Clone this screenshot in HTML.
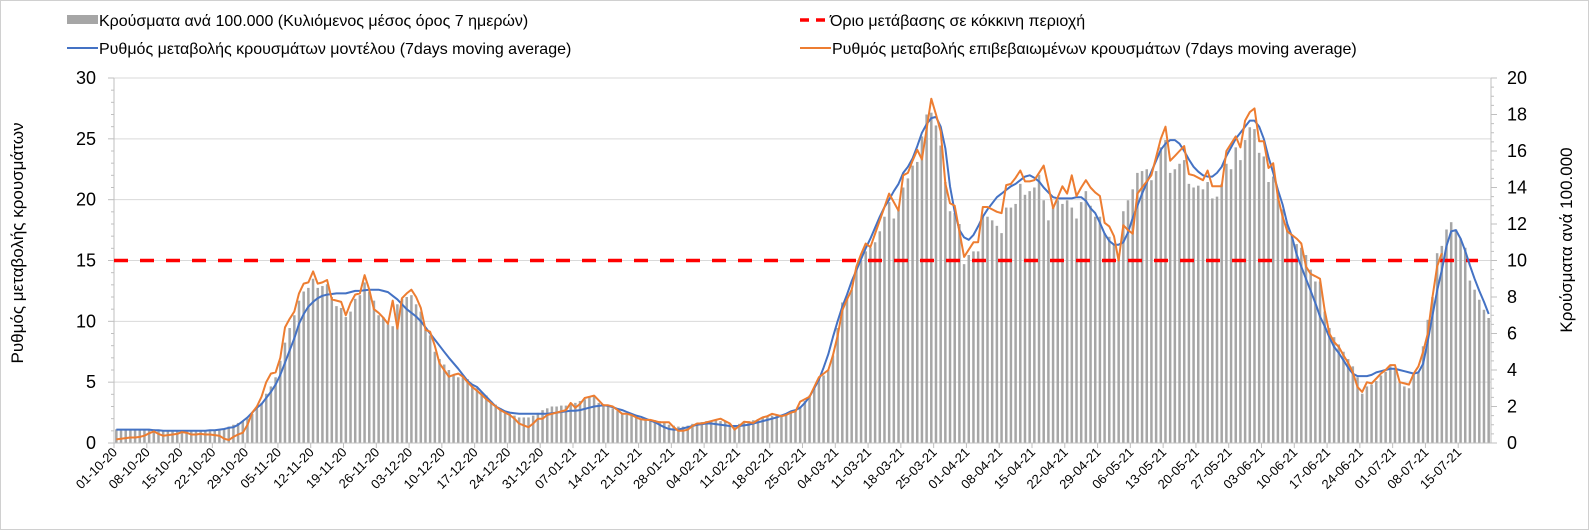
<!DOCTYPE html>
<html><head><meta charset="utf-8">
<style>
html,body{margin:0;padding:0;background:#fff;}
svg{display:block;font-family:"Liberation Sans",Arial,sans-serif;}
</style></head>
<body>
<svg id="chart" width="1589" height="530" viewBox="0 0 1589 530" xmlns="http://www.w3.org/2000/svg">
<rect x="0.5" y="0.5" width="1588" height="529" fill="#fff" stroke="#d0d0d0"/>
<g id="grid"></g>
<g id="bars"></g>
<g id="axes"></g>
<g id="lines"></g>
<g font-size="16" fill="#000">
  <g>
    <rect x="67" y="15" width="31" height="9" fill="#a6a6a6"/>
    <text x="99" y="26">Κρούσματα ανά 100.000 (Κυλιόμενος μέσος όρος 7 ημερών)</text>
  </g>
  <g>
    <line x1="67" y1="48" x2="98" y2="48" stroke="#4472c4" stroke-width="2"/>
    <text x="99" y="54">Ρυθμός μεταβολής κρουσμάτων μοντέλου (7days moving average)</text>
  </g>
  <g>
    <line x1="800" y1="20" x2="829" y2="20" stroke="#ff0000" stroke-width="3.5" stroke-dasharray="9,7"/>
    <text x="830" y="26">Όριο μετάβασης σε κόκκινη περιοχή</text>
  </g>
  <g>
    <line x1="800" y1="48" x2="831" y2="48" stroke="#ed7d31" stroke-width="2"/>
    <text x="832" y="54">Ρυθμός μεταβολής επιβεβαιωμένων κρουσμάτων (7days moving average)</text>
  </g>
</g>
<text font-size="17" text-anchor="middle" transform="translate(23,243) rotate(-90)">Ρυθμός μεταβολής κρουσμάτων</text>
<text font-size="17" text-anchor="middle" transform="translate(1572,240) rotate(-90)">Κρούσματα ανά 100.000</text>
</svg>
<script>
// Daily values starting 01-10-20
const barsRight = [
0.75,0.75,0.75,0.75,0.75,0.75,0.75,
0.75,0.75,0.7,0.7,0.7,0.65,0.65,
0.65,0.7,0.7,0.7,0.7,0.7,0.7,
0.7,0.75,0.8,0.9,1.0,1.1,1.2,
1.35,1.6,1.9,2.2,2.7,3.1,3.6,
4.5,5.5,6.3,7.0,7.8,8.3,8.5,
9.0,8.5,8.6,8.7,8.0,7.5,7.4,
6.9,7.2,7.9,8.1,8.8,8.3,7.8,
7.0,6.9,6.5,6.4,7.6,7.9,8.0,
8.1,7.6,7.2,6.2,5.9,5.0,4.6,
4.3,4.0,3.7,3.6,3.6,3.5,3.2,
3.0,2.8,2.6,2.3,2.1,1.9,1.7,
1.6,1.5,1.4,1.4,1.4,1.5,1.65,
1.8,1.9,2.0,2.0,2.05,2.05,2.1,
2.2,2.3,2.4,2.5,2.55,2.2,2.1,
2.0,1.9,1.75,1.6,1.55,1.5,1.45,
1.35,1.3,1.25,1.25,1.2,1.1,1.0,
0.95,0.9,0.9,0.95,1.05,1.1,1.15,
1.2,1.2,1.25,1.2,1.2,1.05,0.95,
1.05,1.15,1.2,1.25,1.3,1.4,1.45,
1.5,1.55,1.55,1.6,1.7,1.8,2.0,
2.3,2.6,3.0,3.5,3.7,4.0,4.8,
6.3,7.7,8.0,8.4,9.5,10.0,10.5,
10.7,11.0,11.6,12.4,13.2,12.3,12.8,
14.0,14.5,15.2,15.4,16.8,18.0,18.1,
17.4,16.3,14.3,12.7,12.6,12.0,9.8,
10.3,10.5,10.5,12.5,12.4,12.2,11.9,
11.5,12.9,12.9,13.1,14.2,13.6,13.8,
14.0,14.7,13.3,12.2,12.9,13.3,13.1,
13.3,12.9,12.3,13.2,13.8,13.0,12.4,
12.4,11.5,11.3,10.9,10.3,12.7,13.3,
13.9,14.8,14.9,15.0,14.4,14.9,16.2,
16.6,14.8,15.0,15.3,15.5,14.2,14.0,
14.1,13.9,14.3,13.4,13.5,14.2,15.3,
15.0,16.2,15.5,16.6,17.3,17.2,15.9,
15.7,14.3,14.6,13.6,12.8,12.0,11.4,
10.9,10.7,10.3,9.5,8.85,8.85,7.2,
6.3,5.8,5.4,5.0,4.6,4.2,3.6,
2.7,3.1,3.2,3.4,3.7,3.9,4.2,
4.1,3.3,3.1,3.0,3.8,3.9,5.3,
6.75,8.0,10.4,10.8,11.7,12.1,11.7,
11.2,10.7,8.9,8.4,7.85,7.3,6.85
];
const modelRate = [
1.1,1.1,1.1,1.1,1.1,1.1,1.1,
1.1,1.05,1.05,1.0,1.0,1.0,1.0,
1.0,1.0,1.0,1.0,1.0,1.0,1.05,
1.05,1.1,1.15,1.25,1.3,1.5,1.8,
2.1,2.5,2.9,3.2,3.7,4.2,4.8,
5.6,6.6,7.6,8.6,9.8,10.6,11.2,
11.6,11.9,12.1,12.2,12.25,12.3,12.3,
12.3,12.4,12.5,12.5,12.55,12.6,12.6,
12.6,12.5,12.4,12.1,11.8,11.4,11.0,
10.7,10.4,10.0,9.5,9.0,8.5,8.0,
7.5,7.0,6.55,6.1,5.6,5.1,4.8,
4.6,4.2,3.8,3.4,3.0,2.8,2.6,
2.5,2.45,2.4,2.4,2.4,2.4,2.4,
2.4,2.4,2.45,2.5,2.55,2.6,2.65,
2.65,2.7,2.8,2.9,3.0,3.05,3.1,
3.05,2.95,2.8,2.7,2.55,2.4,2.25,
2.15,2.0,1.85,1.7,1.5,1.3,1.15,
1.1,1.1,1.2,1.3,1.4,1.5,1.55,
1.6,1.6,1.55,1.5,1.45,1.4,1.4,
1.4,1.45,1.5,1.6,1.7,1.8,1.9,
2.0,2.1,2.25,2.4,2.6,2.7,2.9,
3.3,3.8,4.5,5.2,6.2,7.3,8.7,
10.0,11.2,12.2,13.3,14.2,15.1,16.0,
16.8,17.7,18.6,19.4,20.0,20.7,21.3,
22.2,22.7,23.4,24.4,25.5,26.2,26.7,
26.8,26.0,24.2,21.1,19.0,17.5,16.9,
16.7,17.1,17.8,18.6,19.2,19.7,20.2,
20.5,20.8,21.1,21.3,21.6,21.9,22.0,
21.8,21.5,21.0,20.6,20.2,20.1,20.1,
20.1,20.1,20.2,20.2,19.9,19.3,18.9,
18.1,17.2,16.6,16.3,16.3,16.5,17.3,
18.5,19.5,20.5,21.4,22.3,23.2,24.1,
24.6,24.9,24.9,24.6,24.0,23.3,22.7,
22.3,22.0,21.9,21.9,22.2,22.7,23.6,
24.3,25.0,25.5,26.0,26.5,26.5,26.0,
25.0,23.5,22.2,20.8,19.6,18.0,17.0,
15.5,14.5,13.5,12.5,11.5,10.4,9.6,
8.7,7.9,7.4,6.8,6.2,5.7,5.5,
5.5,5.5,5.6,5.8,5.9,6.0,6.1,
6.1,6.0,5.9,5.8,5.7,5.8,6.5,
8.4,10.5,12.5,14.2,16.2,17.4,17.5,
16.8,15.8,14.6,13.5,12.5,11.6,10.6
];
const confirmedRate = [
0.3,0.35,0.4,0.45,0.45,0.5,0.6,
0.8,0.95,0.75,0.6,0.65,0.7,0.75,
0.9,0.85,0.7,0.7,0.75,0.7,0.7,
0.65,0.6,0.35,0.25,0.5,0.7,0.85,
1.5,2.5,3.0,3.8,5.0,5.7,5.8,
7.0,9.5,10.2,10.8,12.3,13.1,13.2,
14.1,13.1,13.2,13.4,11.8,11.7,11.6,
10.5,11.5,12.2,12.3,13.8,12.6,11.0,
10.7,10.3,9.8,11.7,9.4,11.9,12.3,
12.6,12.0,11.1,9.3,9.15,8.0,6.55,
6.0,5.45,5.6,5.7,5.45,5.0,4.6,
4.3,3.95,3.6,3.3,3.0,2.7,2.5,
2.3,2.0,1.6,1.45,1.3,1.6,2.0,
2.0,2.3,2.4,2.5,2.6,2.7,3.3,
2.9,3.2,3.7,3.8,3.9,3.5,3.1,
3.1,3.0,2.7,2.4,2.4,2.3,2.1,
1.95,1.9,1.9,1.8,1.7,1.7,1.7,
1.3,1.0,1.0,1.1,1.4,1.6,1.6,
1.7,1.8,1.9,2.0,1.8,1.6,1.1,
1.4,1.75,1.7,1.65,1.9,2.1,2.2,
2.4,2.3,2.2,2.3,2.5,2.6,3.4,
3.6,3.8,4.6,5.4,5.7,6.0,7.2,
8.8,10.9,11.8,12.6,14.5,15.5,16.4,
16.1,17.2,18.3,19.4,20.5,19.8,19.1,
22.0,22.2,23.2,24.1,23.3,25.8,28.3,
27.0,25.6,21.3,19.7,19.5,17.4,15.3,
15.9,16.5,16.5,19.4,19.4,19.2,19.0,
18.9,21.2,21.3,21.8,22.4,21.5,21.5,
21.6,22.2,22.8,21.1,19.3,20.2,21.1,
20.5,22.0,20.3,21.0,21.6,21.0,20.6,
20.3,18.1,17.8,17.0,15.0,17.9,17.5,
17.2,20.5,21.0,21.5,22.0,23.5,25.0,
26.0,23.2,23.6,24.0,24.4,22.1,22.0,
21.8,21.6,22.4,21.1,21.1,21.1,24.0,
24.6,25.2,24.3,26.5,27.2,27.5,24.8,
24.8,22.6,23.0,20.2,18.6,17.4,17.1,
16.8,16.4,14.5,13.9,13.7,13.5,10.9,
9.0,8.3,7.9,7.2,6.6,5.8,4.6,
4.2,5.0,4.9,5.3,5.7,6.0,6.4,
6.4,5.0,4.9,4.8,5.7,6.3,7.5,
9.0,12.0,14.5,15.6
];
const thresholdLeft = [15];
const leftTicks = [0,5,10,15,20,25,30];
const rightTicks = [0,2,4,6,8,10,12,14,16,18,20];
const dateLabels = ["01-10-20","08-10-20","15-10-20","22-10-20","29-10-20","05-11-20","12-11-20","19-11-20","26-11-20","03-12-20","10-12-20","17-12-20","24-12-20","31-12-20","07-01-21","14-01-21","21-01-21","28-01-21","04-02-21","11-02-21","18-02-21","25-02-21","04-03-21","11-03-21","18-03-21","25-03-21","01-04-21","08-04-21","15-04-21","22-04-21","29-04-21","06-05-21","13-05-21","20-05-21","27-05-21","03-06-21","10-06-21","17-06-21","24-06-21","01-07-21","08-07-21","15-07-21"];

const NS = "http://www.w3.org/2000/svg";
const X0 = 114, X1 = 1491, Y0 = 443, YT = 78;
const nCat = barsRight.length;
const band = (X1 - X0) / nCat;
const xCat = i => X0 + (i + 0.5) * band;
const xTick = i => X0 + i * band;
const yL = v => Y0 - v * (Y0 - YT) / 30;
const yR = v => Y0 - v * (Y0 - YT) / 20;
function mk(tag, attrs, parent) {
  const e = document.createElementNS(NS, tag);
  for (const k in attrs) e.setAttribute(k, attrs[k]);
  parent.appendChild(e);
  return e;
}
const grid = document.getElementById('grid');
const barsG = document.getElementById('bars');
const axes = document.getElementById('axes');
const linesG = document.getElementById('lines');

leftTicks.forEach(v => {
  if (v === 0) return;
  const l = mk('line', {x1: X0, x2: X1, y1: yL(v), y2: yL(v), stroke: '#d9d9d9', 'stroke-width': 1}, grid);
  
  
});

barsRight.forEach((v, i) => {
  const r = mk('rect', {x: xCat(i) - 1.25, y: yR(v), width: 2.5, height: Y0 - yR(v), fill: '#a6a6a6'}, barsG);
  
  
});

let ax = mk('line', {x1: X0, x2: X0, y1: YT, y2: Y0, stroke: '#bfbfbf'}, axes);


ax = mk('line', {x1: X1, x2: X1, y1: YT, y2: Y0, stroke: '#bfbfbf'}, axes);


ax = mk('line', {x1: X0, x2: X1, y1: Y0, y2: Y0, stroke: '#bfbfbf'}, axes);



for (let v = 0; v <= 30; v++) {
  const major = v % 5 === 0;
  const t = mk('line', {x1: X0 - (major ? 6 : 3), x2: X0, y1: yL(v), y2: yL(v), stroke: '#bfbfbf'}, axes);
  
  
}
leftTicks.forEach(v => {
  const t = mk('text', {x: 96, y: yL(v) + 6, 'text-anchor': 'end', 'font-size': 18, fill: '#000'}, axes);
  t.textContent = v;
  
  
});
for (let v = 0; v <= 20; v += 0.5) {
  const major = v % 2 === 0;
  const t = mk('line', {x1: X1, x2: X1 + (major ? 6 : 3), y1: yR(v), y2: yR(v), stroke: '#bfbfbf'}, axes);
  
  
}
rightTicks.forEach(v => {
  const t = mk('text', {x: 1507, y: yR(v) + 6, 'text-anchor': 'start', 'font-size': 18, fill: '#000'}, axes);
  t.textContent = v;
  
  
});
dateLabels.forEach((s, k) => {
  const x = xTick(k * 7);
  const tl = mk('line', {x1: x, x2: x, y1: Y0, y2: Y0 + 5, stroke: '#bfbfbf'}, axes);
  
  
  const t = mk('text', {'text-anchor': 'end', 'font-size': 13, fill: '#000', transform: 'translate(' + (x + 4) + ',' + (Y0 + 10) + ') rotate(-45)'}, axes);
  t.textContent = s;
  
  
});

thresholdLeft.forEach(v => {
  const l = mk('line', {x1: X0, x2: 1478, y1: yL(v), y2: yL(v), stroke: '#ff0000', 'stroke-width': 3.5, 'stroke-dasharray': '14,12'}, linesG);
  
  
});
function path(arr) {
  return arr.map((v, i) => (i ? 'L' : 'M') + xCat(i).toFixed(1) + ',' + yL(v).toFixed(1)).join('');
}
const pb = mk('path', {d: path(modelRate), fill: 'none', stroke: '#4472c4', 'stroke-width': 2, 'stroke-linejoin': 'round'}, linesG);


const po = mk('path', {d: path(confirmedRate), fill: 'none', stroke: '#ed7d31', 'stroke-width': 2, 'stroke-linejoin': 'round'}, linesG);


</script>
</body></html>
